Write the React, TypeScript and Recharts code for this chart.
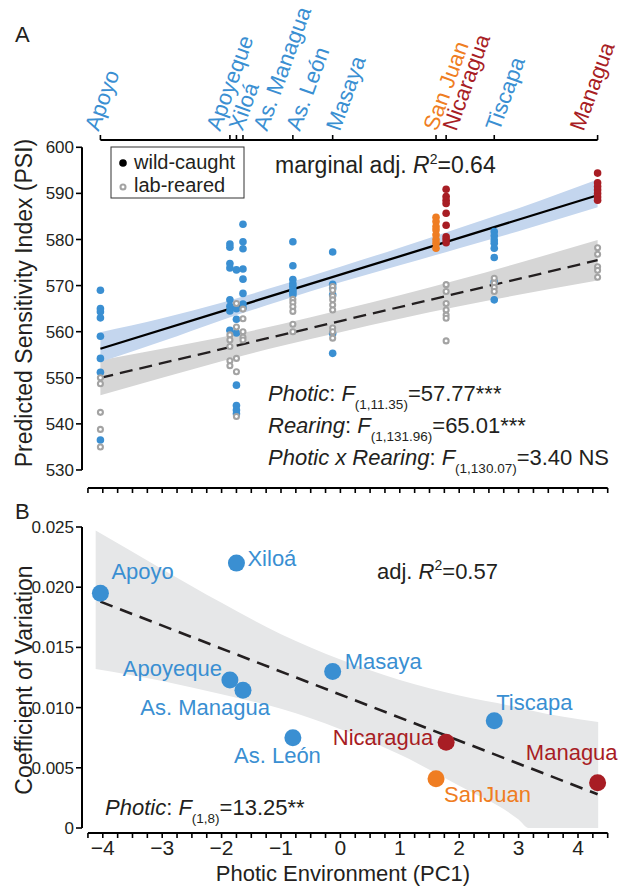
import React from 'react';
import { ComposedChart, Scatter, Line, Area, XAxis, YAxis, ReferenceLine } from 'recharts';

const FONT = '"Liberation Sans", Arial, Helvetica, sans-serif';
const TEXT = '#231f20';

// ---------- data ----------
const lakes = ['Apoyo', 'Apoyeque', 'Xiloá', 'As. Managua', 'As. León', 'Masaya', 'San Juan', 'Nicaragua', 'Tiscapa', 'Managua'];
const lakeLabelsB = ['Apoyo', 'Apoyeque', 'Xiloá', 'As. Managua', 'As. León', 'Masaya', 'SanJuan', 'Nicaragua', 'Tiscapa', 'Managua'];
const lakePC1 = [-4.04, -1.86, -1.75, -1.64, -0.8, -0.13, 1.61, 1.78, 2.59, 4.33];
const lakeGroup = ['blue', 'blue', 'blue', 'blue', 'blue', 'blue', 'orange', 'red', 'blue', 'red'];

const wildPSI = [
  [569.0, 565.0, 564.3, 563.0, 559.0, 554.2, 551.2, 536.5],
  [579.0, 578.3, 574.8, 573.8, 566.9, 565.5, 564.5, 560.3],
  [573.4, 565.0, 562.7, 559.7, 548.4, 544.0, 543.0, 542.2],
  [583.3, 579.5, 578.0, 573.6, 571.4, 568.3, 566.0, 565.2],
  [579.5, 574.3, 571.3, 570.4, 569.8, 569.0, 568.5, 568.0],
  [577.3, 570.3, 569.5, 568.0, 559.6, 555.3],
  [584.8, 583.9, 582.8, 582.1, 581.0, 580.0, 579.2, 578.1],
  [590.9, 589.3, 588.5, 587.8, 585.7, 583.1, 580.6, 580.0, 579.3],
  [581.7, 580.8, 579.9, 579.2, 578.1, 576.1, 570.8, 566.9],
  [594.4, 592.3, 591.5, 590.8, 590.0, 589.2, 588.5],
];
const labPSI = [
  [550.0, 548.7, 542.5, 538.8, 535.0],
  [559.3, 558.2, 556.8, 553.7, 552.6],
  [566.1, 561.0, 554.2, 551.3, 541.6],
  [564.9, 562.8, 560.0, 558.8, 558.2],
  [567.0, 566.3, 565.4, 564.4, 561.6, 560.0],
  [569.8, 569.0, 567.7, 566.9, 565.8, 564.7, 560.8, 560.0, 558.6],
  [],
  [570.2, 568.7, 566.1, 564.7, 563.6, 562.9, 558.0],
  [571.6, 570.5, 569.6, 568.7],
  [578.2, 576.8, 574.1, 573.3, 571.8],
];

const psiTicks = [530, 540, 550, 560, 570, 580, 590, 600];
const fitX = [-4.04, 4.33];
const wildFitY = [556.3, 589.6];
const labFitY = [550.0, 575.5];

const bandAX = [-4.04, -3, -2, -1, 0, 1, 2, 3, 4.33];
const wildBandLow = [553.4, 557.9, 562.5, 566.7, 570.7, 574.4, 578.1, 581.8, 587.0];
const wildBandHigh = [559.9, 562.9, 566.3, 570.1, 574.1, 578.2, 582.5, 586.8, 593.0];
const labBandLow = [546.2, 550.0, 553.6, 556.9, 559.9, 562.8, 565.5, 568.0, 571.1];
const labBandHigh = [553.8, 556.3, 558.8, 561.6, 564.7, 567.9, 571.3, 574.9, 579.9];

const cvValues = [0.0195, 0.0123, 0.022, 0.01145, 0.0075, 0.013, 0.0041, 0.00713, 0.0089, 0.00375];
const cvTicks = [0, 0.005, 0.01, 0.015, 0.02, 0.025];
const cvFitY = [0.0188, 0.0028];
const bandBX = [-4.12, -3, -2, -1, 0, 1, 2, 3, 3.17, 4.34];
const cvBandLow = [0.0132, 0.0122, 0.0111, 0.0099, 0.0082, 0.0061, 0.0035, 0.0007, 0, 0];
const cvBandHigh = [0.0247, 0.0215, 0.0187, 0.0161, 0.014, 0.0123, 0.011, 0.01, 0.0098, 0.0088];

// ---------- styles / layout ----------
const GROUP_COLORS: Record<string, string> = { blue: '#3a8fd2', orange: '#ef7d22', red: '#a81d24' };
const GRAY = '#a3a3a3';
const X_MIN = -4.35;
const X_MAX = 4.5;
const RULER_START = -4.25;
const Y_MIN_A = 526.09;
const Y_MAX_A = 601.58;
const Y_MIN_B = -0.000415;
const Y_MAX_B = 0.025;
const topLabelDx = [-2, -10, 6, 24, 7, 7, 1, 10, 5, -14];
const cvLabelPos = [
  { dx: 11, dy: -14, anchor: 'start' },
  { dx: -8, dy: -4, anchor: 'end' },
  { dx: 11, dy: 3, anchor: 'start' },
  { dx: 27, dy: 25, anchor: 'end' },
  { dx: 28, dy: 25, anchor: 'end' },
  { dx: 12, dy: -2, anchor: 'start' },
  { dx: 8, dy: 23, anchor: 'start' },
  { dx: -13, dy: 3, anchor: 'end' },
  { dx: 2, dy: -11, anchor: 'start' },
  { dx: 20, dy: -23, anchor: 'end' },
];

// ---------- derived tables ----------
const quarterTicks = Array.from({ length: 36 }, (_, k) => RULER_START + k * 0.25);
const wildPoints = lakes.flatMap((_, i) => wildPSI[i].map((v) => ({ x: lakePC1[i], y: v, group: lakeGroup[i] })));
const labPoints = lakes.flatMap((_, i) => labPSI[i].map((v) => ({ x: lakePC1[i], y: v })));
const wildFit = fitX.map((x, i) => ({ x, y: wildFitY[i] }));
const labFit = fitX.map((x, i) => ({ x, y: labFitY[i] }));
const wildBand = bandAX.map((x, i) => ({ x, range: [wildBandLow[i], wildBandHigh[i]] }));
const labBand = bandAX.map((x, i) => ({ x, range: [labBandLow[i], labBandHigh[i]] }));
const cvPoints = lakes.map((_, i) => ({ x: lakePC1[i], y: cvValues[i], i, group: lakeGroup[i] }));
const cvFit = fitX.map((x, i) => ({ x, y: cvFitY[i] }));
const cvBand = bandBX.map((x, i) => ({ x, range: [cvBandLow[i], cvBandHigh[i]] }));

// ---------- shapes ----------
const WildDot = (p: any) => {
  const d = p.payload ?? p;
  return <circle cx={p.cx} cy={p.cy} r={3.8} fill={GROUP_COLORS[d.group]} />;
};
const LabRing = (p: any) => <circle cx={p.cx} cy={p.cy} r={2.5} fill="#fff" stroke={GRAY} strokeWidth={2.1} />;
const CvDot = (p: any) => {
  const d = p.payload ?? p;
  const pos = cvLabelPos[d.i];
  const color = GROUP_COLORS[d.group];
  return (
    <g>
      <circle cx={p.cx} cy={p.cy} r={8.5} fill={color} />
      <text x={p.cx + pos.dx} y={p.cy + pos.dy} textAnchor={pos.anchor as any} fontSize={22} fontFamily={FONT} fill={color}>
        {lakeLabelsB[d.i]}
      </text>
    </g>
  );
};
const TopTick = (p: any) => {
  const v = p.payload?.value;
  const i = lakePC1.findIndex((q) => Math.abs(q - v) < 1e-6);
  if (i < 0) return null;
  const x = p.x + topLabelDx[i];
  const y = p.y - 1;
  return (
    <text x={x} y={y} transform={`rotate(-70, ${x}, ${y})`} textAnchor="start" fontSize={22} fontFamily={FONT} fill={GROUP_COLORS[lakeGroup[i]]}>
      {lakes[i]}
    </text>
  );
};

const fmtPC = (v: number) => (Number.isInteger(v) && v >= -4 && v <= 4 ? (v < 0 ? `\u2212${-v}` : `${v}`) : '');
const lineStyle = { stroke: '#000', strokeWidth: 2 };
const tickLineStyle = { stroke: '#000', strokeWidth: 1.6 };

export default function App() {
  return (
    <div style={{ position: 'absolute', left: 0, top: 0, width: 622, height: 888, background: '#fff', fontFamily: FONT }}>
      <div style={{ position: 'absolute', left: 0, top: 0 }}>
        <ComposedChart width={622} height={500} margin={{ top: 110, right: 14.3, bottom: 0, left: 22 }}>
          <XAxis
            type="number"
            dataKey="x"
            domain={[X_MIN, X_MAX]}
            ticks={quarterTicks}
            interval={0}
            axisLine={false}
            tickLine={tickLineStyle}
            tickSize={5}
            tickFormatter={() => ''}
            height={12}
          />
          <XAxis
            xAxisId="top"
            orientation="top"
            type="number"
            dataKey="x"
            domain={[X_MIN, X_MAX]}
            allowDataOverflow
            ticks={lakePC1}
            interval={0}
            axisLine={false}
            tickLine={tickLineStyle}
            tickSize={5}
            tickMargin={2}
            tick={(p: any) => <TopTick {...p} />}
            height={30}
          />
          <YAxis
            type="number"
            dataKey="y"
            domain={[Y_MIN_A, Y_MAX_A]}
            ticks={psiTicks}
            interval={0}
            axisLine={false}
            tickLine={tickLineStyle}
            tickSize={6}
            tickMargin={2}
            width={60}
            tick={{ fontSize: 17, fill: TEXT, fontFamily: FONT }}
          />
          <Area data={labBand} dataKey="range" type="monotone" stroke="none" fill="#d6d6d6" fillOpacity={1} isAnimationActive={false} />
          <Area data={wildBand} dataKey="range" type="monotone" stroke="none" fill="#c4d6ee" fillOpacity={1} isAnimationActive={false} />
          <Line data={labFit} dataKey="y" stroke="#231f20" strokeWidth={2.3} strokeDasharray="13 7" dot={false} activeDot={false} isAnimationActive={false} />
          <Line data={wildFit} dataKey="y" stroke="#000" strokeWidth={2.3} dot={false} activeDot={false} isAnimationActive={false} />
          <Scatter data={wildPoints} dataKey="y" shape={WildDot} isAnimationActive={false} />
          <Scatter data={labPoints} dataKey="y" shape={LabRing} isAnimationActive={false} />
          <ReferenceLine segment={[{ x: X_MIN, y: 530 }, { x: X_MIN, y: 600 }]} ifOverflow="visible" {...lineStyle} />
          <ReferenceLine segment={[{ x: lakePC1[0], y: Y_MAX_A }, { x: lakePC1[9], y: Y_MAX_A }]} ifOverflow="visible" {...lineStyle} />
          <ReferenceLine segment={[{ x: RULER_START, y: Y_MIN_A }, { x: X_MAX, y: Y_MIN_A }]} ifOverflow="visible" {...lineStyle} />
        </ComposedChart>
      </div>

      <div style={{ position: 'absolute', left: 0, top: 500 }}>
        <ComposedChart width={622} height={388} margin={{ top: 27, right: 14.3, bottom: 25, left: 22 }}>
          <XAxis
            type="number"
            dataKey="x"
            domain={[X_MIN, X_MAX]}
            ticks={quarterTicks}
            interval={0}
            axisLine={false}
            tickLine={tickLineStyle}
            tickSize={5}
            tickMargin={2}
            tickFormatter={fmtPC}
            tick={{ fontSize: 21, fill: TEXT, fontFamily: FONT }}
            height={30}
          />
          <YAxis
            type="number"
            dataKey="y"
            domain={[Y_MIN_B, Y_MAX_B]}
            ticks={cvTicks}
            interval={0}
            axisLine={false}
            tickLine={tickLineStyle}
            tickSize={6}
            tickMargin={2}
            width={60}
            tickFormatter={(v: number) => (v === 0 ? '0' : v.toFixed(3))}
            tick={{ fontSize: 17, fill: TEXT, fontFamily: FONT }}
          />
          <Area data={cvBand} dataKey="range" type="monotone" stroke="none" fill="#e6e7e8" fillOpacity={1} isAnimationActive={false} />
          <Line data={cvFit} dataKey="y" stroke="#231f20" strokeWidth={2.6} strokeDasharray="13 8" dot={false} activeDot={false} isAnimationActive={false} />
          <Scatter data={cvPoints} dataKey="y" shape={CvDot} isAnimationActive={false} />
          <ReferenceLine segment={[{ x: X_MIN, y: 0 }, { x: X_MIN, y: Y_MAX_B }]} ifOverflow="visible" {...lineStyle} />
          <ReferenceLine segment={[{ x: RULER_START, y: Y_MIN_B }, { x: X_MAX, y: Y_MIN_B }]} ifOverflow="visible" {...lineStyle} />
        </ComposedChart>
      </div>

      <svg width={622} height={888} style={{ position: 'absolute', left: 0, top: 0, pointerEvents: 'none' }} fontFamily={FONT} fill={TEXT}>
        <text x={15} y={42} fontSize={22}>A</text>
        <text x={15} y={519} fontSize={22}>B</text>
        <text x={32} y={303} fontSize={23} textAnchor="middle" transform="rotate(-90, 32, 303)">Predicted Sensitivity Index (PSI)</text>
        <text x={32} y={680} fontSize={23} textAnchor="middle" transform="rotate(-90, 32, 680)">Coefficient of Variation</text>
        <text x={343} y={881} fontSize={22} textAnchor="middle">Photic Environment (PC1)</text>

        <rect x={111} y={147} width={133} height={51} fill="#fff" stroke="#333" strokeWidth={1} />
        <circle cx={123} cy={163} r={3.8} fill="#000" />
        <text x={134} y={169} fontSize={20}>wild-caught</text>
        <circle cx={123} cy={187} r={2.5} fill="#fff" stroke={GRAY} strokeWidth={2.1} />
        <text x={134} y={192} fontSize={20}>lab-reared</text>

        <text x={275} y={173} fontSize={23}>
          marginal adj. <tspan fontStyle="italic">R</tspan>
          <tspan fontSize={14} dy={-9}>2</tspan>
          <tspan dy={9}>=0.64</tspan>
        </text>

        <text x={268} y={401} fontSize={22}>
          <tspan fontStyle="italic">Photic</tspan>: <tspan fontStyle="italic">F</tspan>
          <tspan fontSize={13.5} dy={8}>(1,11.35)</tspan>
          <tspan dy={-8}>=57.77***</tspan>
        </text>
        <text x={268} y={433} fontSize={22}>
          <tspan fontStyle="italic">Rearing</tspan>: <tspan fontStyle="italic">F</tspan>
          <tspan fontSize={13.5} dy={8}>(1,131.96)</tspan>
          <tspan dy={-8}>=65.01***</tspan>
        </text>
        <text x={268} y={465} fontSize={22}>
          <tspan fontStyle="italic">Photic x Rearing</tspan>: <tspan fontStyle="italic">F</tspan>
          <tspan fontSize={13.5} dy={8}>(1,130.07)</tspan>
          <tspan dy={-8}>=3.40 NS</tspan>
        </text>

        <text x={377} y={579} fontSize={22}>
          adj. <tspan fontStyle="italic">R</tspan>
          <tspan fontSize={14} dy={-9}>2</tspan>
          <tspan dy={9}>=0.57</tspan>
        </text>
        <text x={105} y={815} fontSize={22}>
          <tspan fontStyle="italic">Photic</tspan>: <tspan fontStyle="italic">F</tspan>
          <tspan fontSize={13.5} dy={8}>(1,8)</tspan>
          <tspan dy={-8}>=13.25**</tspan>
        </text>
      </svg>
    </div>
  );
}
